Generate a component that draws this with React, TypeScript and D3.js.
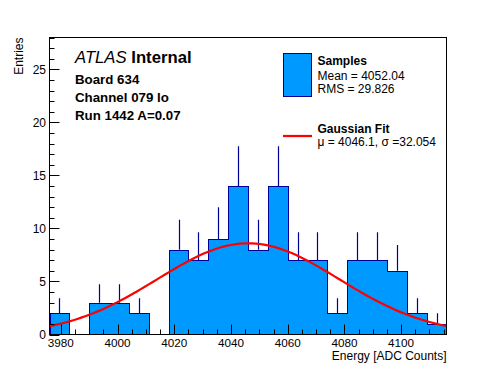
import { useEffect, useRef } from 'react';
import * as d3 from 'd3';

const WIDTH = 496;
const HEIGHT = 372;
const FRAME = { left: 49.5, right: 446.5, top: 37.5, bottom: 334.5 };

// histogram: 20 bins of 7 ADC counts starting at 3976
const BIN_START = 3976;
const BIN_WIDTH = 7;
const counts = [2, 0, 3, 3, 2, 0, 8, 7, 9, 14, 8, 14, 7, 7, 2, 7, 7, 6, 2, 1];

// gaussian fit parameters (from legend)
const fitMu = 4046.1;
const fitSigma = 32.054;
const fitAmplitude = 8.6;

const xTicks = [3980, 4000, 4020, 4040, 4060, 4080, 4100];
const yTicks = [0, 5, 10, 15, 20, 25];

const FILL = '#0099ff';
const LINE = '#000099';
const FONT = '"Liberation Sans", Arial, Helvetica, sans-serif';

export default function App() {
  const svgRef = useRef<SVGSVGElement>(null);

  useEffect(() => {
    if (!svgRef.current) return;
    const svg = d3.select(svgRef.current);
    svg.selectAll('*').remove();

    const x = d3
      .scaleLinear()
      .domain([BIN_START, BIN_START + counts.length * BIN_WIDTH])
      .range([FRAME.left, FRAME.right]);
    const y = d3.scaleLinear().domain([0, 28]).range([FRAME.bottom, FRAME.top]);

    svg
      .append('rect')
      .attr('width', WIDTH)
      .attr('height', HEIGHT)
      .attr('fill', '#fff');

    svg
      .append('clipPath')
      .attr('id', 'frame-clip')
      .append('rect')
      .attr('x', FRAME.left)
      .attr('y', FRAME.top)
      .attr('width', FRAME.right - FRAME.left)
      .attr('height', FRAME.bottom - FRAME.top);

    const g = svg.append('g').attr('clip-path', 'url(#frame-clip)');

    // filled bins
    g.selectAll('rect.bin')
      .data(counts)
      .enter()
      .append('rect')
      .attr('class', 'bin')
      .attr('x', (_, i) => x(BIN_START + i * BIN_WIDTH))
      .attr('y', (d) => y(d))
      .attr('width', x(BIN_START + BIN_WIDTH) - x(BIN_START))
      .attr('height', (d) => y(0) - y(d))
      .attr('fill', FILL)
      .attr('shape-rendering', 'crispEdges');

    // step outline
    const pts: [number, number][] = [[BIN_START, 0]];
    counts.forEach((c, i) => {
      pts.push([BIN_START + i * BIN_WIDTH, c]);
      pts.push([BIN_START + (i + 1) * BIN_WIDTH, c]);
    });
    pts.push([BIN_START + counts.length * BIN_WIDTH, 0]);
    const outline = d3
      .line<[number, number]>()
      .x((d) => Math.round(x(d[0])) + 0.5)
      .y((d) => Math.round(y(d[1])) + 0.5);
    g.append('path')
      .datum(pts)
      .attr('d', outline)
      .attr('fill', 'none')
      .attr('stroke', LINE)
      .attr('stroke-width', 1.2)
      .attr('shape-rendering', 'crispEdges');

    // error bars (upper half)
    g.selectAll('line.err')
      .data(counts.map((c, i) => ({ c, i })).filter((d) => d.c > 0))
      .enter()
      .append('line')
      .attr('class', 'err')
      .attr('x1', (d) => Math.round(x(BIN_START + (d.i + 0.5) * BIN_WIDTH)) + 0.5)
      .attr('x2', (d) => Math.round(x(BIN_START + (d.i + 0.5) * BIN_WIDTH)) + 0.5)
      .attr('y1', (d) => y(d.c))
      .attr('y2', (d) => y(d.c + Math.sqrt(d.c)))
      .attr('stroke', LINE)
      .attr('stroke-width', 1.2);

    // gaussian fit
    const [x0, x1] = x.domain();
    const fitPts = d3.range(0, 101).map((k) => {
      const xv = x0 + ((x1 - x0) * k) / 100;
      return [xv, fitAmplitude * Math.exp(-0.5 * ((xv - fitMu) / fitSigma) ** 2)] as [number, number];
    });
    g.append('path')
      .datum(fitPts)
      .attr(
        'd',
        d3
          .line<[number, number]>()
          .x((d) => x(d[0]))
          .y((d) => y(d[1]))
      )
      .attr('fill', 'none')
      .attr('stroke', '#ff0000')
      .attr('stroke-width', 2.2);

    // frame
    svg
      .append('rect')
      .attr('x', FRAME.left)
      .attr('y', FRAME.top)
      .attr('width', FRAME.right - FRAME.left)
      .attr('height', FRAME.bottom - FRAME.top)
      .attr('fill', 'none')
      .attr('stroke', '#000')
      .attr('stroke-width', 1);

    // x ticks
    const axisG = svg.append('g').attr('stroke', '#000').attr('stroke-width', 1);
    const xMinor = d3.range(3980, 4116, 5);
    axisG
      .selectAll('line.xt')
      .data(xMinor)
      .enter()
      .append('line')
      .attr('x1', (d) => Math.round(x(d)) + 0.5)
      .attr('x2', (d) => Math.round(x(d)) + 0.5)
      .attr('y1', FRAME.bottom)
      .attr('y2', (d) => FRAME.bottom - (d % 20 === 0 ? 10 : 5));

    // y ticks
    const yMinor = d3.range(0, 29, 1);
    axisG
      .selectAll('line.yt')
      .data(yMinor)
      .enter()
      .append('line')
      .attr('x1', FRAME.left)
      .attr('x2', (d) => FRAME.left + (d % 5 === 0 ? 10 : 5))
      .attr('y1', (d) => Math.round(y(d)) + 0.5)
      .attr('y2', (d) => Math.round(y(d)) + 0.5);

    const text = svg.append('g').attr('font-family', FONT).attr('fill', '#000');

    text
      .selectAll('text.xl')
      .data(xTicks)
      .enter()
      .append('text')
      .attr('x', (d) => x(d))
      .attr('y', 346.5)
      .attr('text-anchor', 'middle')
      .attr('font-size', 11.7)
      .text((d) => d);

    text
      .selectAll('text.yl')
      .data(yTicks)
      .enter()
      .append('text')
      .attr('x', 46)
      .attr('y', (d) => y(d) + 4.5)
      .attr('text-anchor', 'end')
      .attr('font-size', 12)
      .text((d) => d);

    text
      .append('text')
      .attr('x', FRAME.right)
      .attr('y', 360)
      .attr('text-anchor', 'end')
      .attr('font-size', 12)
      .text('Energy [ADC Counts]');

    text
      .append('text')
      .attr('transform', `translate(23,${FRAME.top}) rotate(-90)`)
      .attr('text-anchor', 'end')
      .attr('font-size', 12)
      .text('Entries');

    // labels
    const atlas = text.append('text').attr('x', 75).attr('y', 62.5).attr('font-size', 16.7);
    atlas.append('tspan').attr('font-style', 'italic').text('ATLAS');
    atlas.append('tspan').attr('font-weight', 'bold').text(' Internal');

    const infoLines = ['Board 634', 'Channel 079 lo', 'Run 1442 A=0.07'];
    text
      .selectAll('text.info')
      .data(infoLines)
      .enter()
      .append('text')
      .attr('x', 75)
      .attr('y', (_, i) => 83.5 + i * 18.3)
      .attr('font-size', 13.3)
      .attr('font-weight', 'bold')
      .text((d) => d);

    // legend
    svg
      .append('rect')
      .attr('x', 283.5)
      .attr('y', 53.5)
      .attr('width', 28)
      .attr('height', 43)
      .attr('fill', FILL)
      .attr('stroke', LINE)
      .attr('stroke-width', 1);
    svg
      .append('line')
      .attr('x1', 283)
      .attr('x2', 312)
      .attr('y1', 136)
      .attr('y2', 136)
      .attr('stroke', '#ff0000')
      .attr('stroke-width', 2.2);

    const legendRows: { t: string; y: number; bold: boolean }[] = [
      { t: 'Samples', y: 65, bold: true },
      { t: 'Mean = 4052.04', y: 80, bold: false },
      { t: 'RMS = 29.826', y: 93.3, bold: false },
      { t: 'Gaussian Fit', y: 132.5, bold: true },
      { t: 'μ = 4046.1, σ =32.054', y: 145.5, bold: false },
    ];
    text
      .selectAll('text.leg')
      .data(legendRows)
      .enter()
      .append('text')
      .attr('x', 317.5)
      .attr('y', (d) => d.y)
      .attr('font-size', 12)
      .attr('font-weight', (d) => (d.bold ? 'bold' : 'normal'))
      .text((d) => d.t);
  }, []);

  return (
    <div style={{ position: 'fixed', left: 0, top: 0 }}>
      <svg ref={svgRef} width={WIDTH} height={HEIGHT} style={{ display: 'block' }} />
    </div>
  );
}
